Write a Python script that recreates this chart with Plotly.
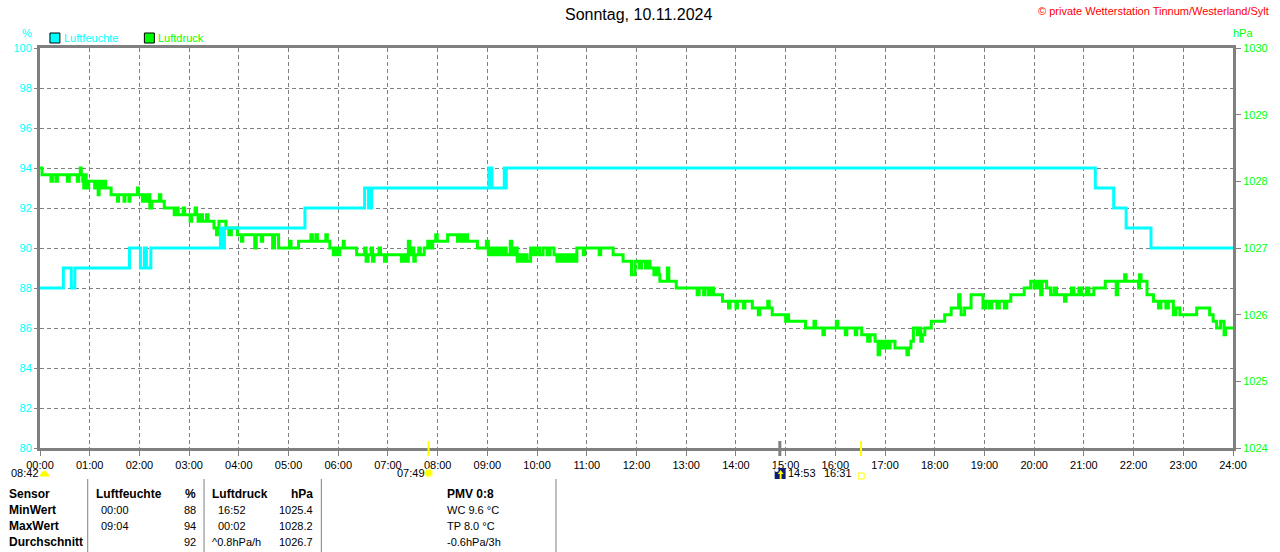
import plotly.graph_objects as go

# ---------------- data ----------------
HUM_TIME = [0.00, 0.47, 0.63, 0.70, 1.80, 2.02, 2.10, 2.14, 2.23, 3.63, 3.67, 3.71, 5.33,
            6.53, 6.61, 6.67, 9.03, 9.09, 9.34, 9.36, 9.38, 9.41, 21.23, 21.60, 21.85, 22.35, 24.00]
HUM_VALUE = [88, 89, 88, 89, 90, 89, 90, 89, 90, 91, 90, 91, 92,
             93, 92, 93, 94, 93, 94, 93, 94, 94, 93, 92, 91, 90, 90]

P_TIME = [0.00, 0.04, 0.22, 0.25, 0.32, 0.35, 0.55, 0.59, 0.75, 0.78, 0.81, 0.83, 0.86, 0.88, 0.90,
          0.93, 0.96, 0.98, 1.10, 1.12, 1.15, 1.17, 1.19, 1.21, 1.24, 1.30, 1.32, 1.43, 1.56, 1.58,
          1.69, 1.71, 1.79, 1.81, 1.96, 1.98, 2.06, 2.08, 2.13, 2.16, 2.21, 2.25, 2.40, 2.43, 2.50,
          2.70, 2.74, 2.78, 2.88, 2.91, 3.02, 3.05, 3.12, 3.15, 3.18, 3.24, 3.27, 3.35, 3.38, 3.50,
          3.55, 3.57, 3.60, 3.74, 3.80, 3.85, 3.97, 4.05, 4.08, 4.32, 4.35, 4.45, 4.48, 4.68, 4.72,
          4.80, 5.02, 5.05, 5.20, 5.45, 5.48, 5.55, 5.58, 5.75, 5.78, 5.83, 5.90, 5.93, 5.98, 6.03,
          6.10, 6.12, 6.37, 6.53, 6.56, 6.60, 6.66, 6.69, 6.72, 6.82, 6.85, 6.93, 6.97, 7.27, 7.32,
          7.36, 7.41, 7.44, 7.48, 7.52, 7.55, 7.62, 7.65, 7.73, 7.80, 7.86, 7.90, 7.96, 7.99, 8.20,
          8.40, 8.45, 8.50, 8.55, 8.60, 8.80, 8.98, 9.02, 9.08, 9.14, 9.20, 9.26, 9.32, 9.38, 9.46,
          9.49, 9.54, 9.60, 9.64, 9.70, 9.74, 9.80, 9.87, 9.92, 9.98, 10.05, 10.12, 10.20, 10.26,
          10.34, 10.40, 10.46, 10.52, 10.58, 10.64, 10.70, 10.76, 10.80, 10.93, 10.96, 11.25, 11.28,
          11.53, 11.73, 11.90, 11.97, 12.05, 12.10, 12.18, 12.22, 12.27, 12.35, 12.40, 12.45, 12.47,
          12.62, 12.65, 12.80, 13.22, 13.26, 13.35, 13.38, 13.45, 13.50, 13.55, 13.73, 13.85, 13.88,
          14.00, 14.03, 14.15, 14.18, 14.33, 14.45, 14.48, 14.64, 14.67, 14.73, 15.00, 15.03, 15.06,
          15.40, 15.57, 15.60, 15.75, 15.78, 16.02, 16.05, 16.20, 16.23, 16.40, 16.43, 16.53, 16.65,
          16.70, 16.80, 16.86, 16.89, 16.95, 17.00, 17.05, 17.10, 17.20, 17.44, 17.47, 17.52, 17.57,
          17.65, 17.68, 17.72, 17.75, 17.80, 17.93, 18.20, 18.33, 18.48, 18.51, 18.53, 18.60, 18.73,
          18.97, 19.03, 19.10, 19.15, 19.25, 19.30, 19.40, 19.45, 19.53, 19.80, 19.93, 20.00, 20.05,
          20.10, 20.13, 20.16, 20.25, 20.33, 20.40, 20.45, 20.61, 20.64, 20.75, 20.80, 20.90, 20.95,
          21.05, 21.10, 21.20, 21.43, 21.65, 21.68, 21.82, 21.85, 22.10, 22.12, 22.15, 22.27, 22.40,
          22.50, 22.55, 22.65, 22.70, 22.80, 22.85, 22.93, 23.27, 23.53, 23.60, 23.67, 23.75, 23.82,
          23.85, 24.00]
P_VALUE = [1028.2, 1028.1, 1028.0, 1028.1, 1028.0, 1028.1, 1028.0, 1028.1, 1028.0, 1028.1, 1028.2,
           1028.1, 1028.0, 1027.9, 1028.1, 1028.0, 1027.9, 1028.0, 1027.9, 1028.0, 1027.9, 1027.8,
           1027.9, 1028.0, 1027.9, 1028.0, 1027.9, 1027.8, 1027.7, 1027.8, 1027.7, 1027.8, 1027.7,
           1027.8, 1027.9, 1027.8, 1027.7, 1027.8, 1027.7, 1027.8, 1027.6, 1027.7, 1027.8, 1027.7,
           1027.6, 1027.5, 1027.6, 1027.5, 1027.6, 1027.5, 1027.4, 1027.5, 1027.6, 1027.5, 1027.4,
           1027.5, 1027.4, 1027.5, 1027.4, 1027.3, 1027.2, 1027.3, 1027.4, 1027.3, 1027.2, 1027.3,
           1027.2, 1027.1, 1027.2, 1027.0, 1027.2, 1027.1, 1027.2, 1027.0, 1027.2, 1027.0, 1027.1,
           1027.0, 1027.1, 1027.2, 1027.1, 1027.2, 1027.1, 1027.2, 1027.1, 1027.0, 1026.9, 1027.0,
           1026.9, 1027.0, 1027.1, 1027.0, 1026.9, 1027.0, 1026.8, 1026.9, 1027.0, 1026.8, 1026.9,
           1027.0, 1026.9, 1026.8, 1026.9, 1026.8, 1026.9, 1026.8, 1027.1, 1026.9, 1027.0, 1026.8,
           1026.9, 1027.0, 1026.9, 1027.0, 1027.1, 1027.0, 1027.1, 1027.2, 1027.1, 1027.2, 1027.1,
           1027.2, 1027.1, 1027.2, 1027.1, 1027.0, 1027.1, 1026.9, 1027.0, 1026.9, 1027.0, 1026.9,
           1027.0, 1026.9, 1027.1, 1026.9, 1027.0, 1026.8, 1026.9, 1026.8, 1026.9, 1026.8, 1027.0,
           1026.9, 1027.0, 1026.9, 1027.0, 1026.9, 1027.0, 1026.9, 1026.8, 1026.9, 1026.8, 1026.9,
           1026.8, 1026.9, 1026.8, 1027.0, 1026.9, 1027.0, 1026.9, 1027.0, 1026.9, 1026.8, 1026.6,
           1026.8, 1026.7, 1026.8, 1026.7, 1026.8, 1026.7, 1026.6, 1026.7, 1026.6, 1026.5, 1026.7,
           1026.5, 1026.4, 1026.3, 1026.4, 1026.3, 1026.4, 1026.3, 1026.4, 1026.3, 1026.2, 1026.1,
           1026.2, 1026.1, 1026.2, 1026.1, 1026.2, 1026.1, 1026.0, 1026.1, 1026.2, 1026.1, 1026.0,
           1025.9, 1026.0, 1025.9, 1025.8, 1025.9, 1025.8, 1025.7, 1025.8, 1025.9, 1025.8, 1025.7,
           1025.8, 1025.7, 1025.8, 1025.7, 1025.6, 1025.7, 1025.6, 1025.4, 1025.6, 1025.5, 1025.6,
           1025.5, 1025.6, 1025.5, 1025.4, 1025.5, 1025.6, 1025.8, 1025.7, 1025.8, 1025.6, 1025.7,
           1025.8, 1025.9, 1026.0, 1026.1, 1026.3, 1026.1, 1026.0, 1026.1, 1026.3, 1026.1, 1026.2,
           1026.1, 1026.2, 1026.1, 1026.2, 1026.1, 1026.2, 1026.3, 1026.4, 1026.5, 1026.4, 1026.5,
           1026.4, 1026.3, 1026.5, 1026.4, 1026.3, 1026.4, 1026.3, 1026.2, 1026.3, 1026.4, 1026.3,
           1026.4, 1026.3, 1026.4, 1026.3, 1026.4, 1026.5, 1026.3, 1026.5, 1026.6, 1026.5, 1026.4,
           1026.6, 1026.5, 1026.3, 1026.2, 1026.1, 1026.2, 1026.1, 1026.2, 1026.0, 1026.1, 1026.0,
           1026.1, 1026.0, 1025.9, 1025.8, 1025.9, 1025.7, 1025.8, 1025.8]

X_TICK_HOURS = list(range(25))
X_TICK_LABELS = ["00:00", "01:00", "02:00", "03:00", "04:00", "05:00", "06:00", "07:00", "08:00",
                 "09:00", "10:00", "11:00", "12:00", "13:00", "14:00", "15:00", "16:00", "17:00",
                 "18:00", "19:00", "20:00", "21:00", "22:00", "23:00", "24:00"]
HUM_TICKS = [80, 82, 84, 86, 88, 90, 92, 94, 96, 98, 100]
P_TICKS = [1024, 1025, 1026, 1027, 1028, 1029, 1030]

TITLE = "Sonntag, 10.11.2024"
COPYRIGHT = "© private Wetterstation Tinnum/Westerland/Sylt"

# event markers on the time axis (sunrise, moonrise, sunset)
EVENT_HOURS = [7 + 49 / 60, 14 + 53 / 60, 16 + 31 / 60]
EVENT_COLORS = ["#FFFF00", "#808080", "#FFFF00"]

TABLE_LABELS = ["Sensor", "MinWert", "MaxWert", "Durchschnitt"]
HUM_TIME_COL = ["Luftfeuchte", "00:00", "09:04", ""]
HUM_VAL_COL = ["%", "88", "94", "92"]
P_TIME_COL = ["Luftdruck", "16:52", "00:02", "^0.8hPa/h"]
P_VAL_COL = ["hPa", "1025.4", "1028.2", "1026.7"]
EXTRA_COL = ["PMV 0:8", "WC 9.6 °C", "TP 8.0 °C", "-0.6hPa/3h"]

# ---------------- styling ----------------
CYAN = "#00FFFF"
GREEN = "#00FF00"
GREY = "#808080"
FONT = "Liberation Sans"
W, H = 1280, 552
PL, PR, PT, PB = 40, 1240, 48, 448


def fx(px):
    return (px - PL) / (PR - PL)


def fy(py):
    return (PB - py) / (PB - PT)


fig = go.Figure()
fig.add_trace(go.Scatter(x=P_TIME, y=P_VALUE, mode="lines", line=dict(color=GREEN, width=3, shape="hv"),
                         name="Luftdruck", yaxis="y", hoverinfo="skip"))
fig.add_trace(go.Scatter(x=HUM_TIME, y=HUM_VALUE, mode="lines", line=dict(color=CYAN, width=3, shape="hv"),
                         name="Luftfeuchte", yaxis="y2", hoverinfo="skip"))

ann = []
shapes = []


def text(px, py, s, color="black", size=11, anchor="left", bold=False):
    ann.append(dict(xref="paper", yref="paper", x=fx(px), y=fy(py), text=("<b>%s</b>" % s) if bold else s,
                    showarrow=False, xanchor=anchor, yanchor="middle", borderpad=0,
                    font=dict(family=FONT, size=size, color=color)))


# title, copyright, units, legend
text(642, 15, TITLE, size=16, anchor="center")
text(1277, 11, COPYRIGHT, color="#FF0000", size=11, anchor="right")
text(27, 33, "%", color=CYAN, size=11, anchor="center")
text(1250, 33, "hPa", color=GREEN, size=11, anchor="center")
for bx, col, label in [(50, CYAN, "Luftfeuchte"), (145, GREEN, "Luftdruck")]:
    shapes.append(dict(type="rect", xref="paper", yref="paper", x0=fx(bx), x1=fx(bx + 10),
                       y0=fy(43), y1=fy(33), fillcolor=col, line=dict(color="black", width=1)))
    text(bx + 13, 38, label, color=col, size=11)

# event markers on the axis
for h, col in zip(EVENT_HOURS, EVENT_COLORS):
    shapes.append(dict(type="line", xref="x", yref="paper", x0=h, x1=h, y0=fy(441), y1=fy(456),
                       line=dict(color=col, width=2 if col != GREY else 3)))

# event labels below the axis
text(10, 473, "08:42")
shapes.append(dict(type="path", xref="paper", yref="paper",
                   path="M %f,%f Q %f,%f %f,%f Z" % (fx(40), fy(476), fx(44.5), fy(466), fx(49), fy(476)),
                   fillcolor="#FFFF00", line=dict(color="#FFFF00", width=1)))
text(398, 473, "07:49")
shapes.append(dict(type="circle", xref="paper", yref="paper", x0=fx(427), x1=fx(435), y0=fy(477), y1=fy(469),
                   fillcolor="#FFFF00", line=dict(color="#FFFF99", width=1.5)))
shapes.append(dict(type="rect", xref="paper", yref="paper", x0=fx(779), x1=fx(790), y0=fy(479), y1=fy(468),
                   fillcolor="#101c70", line=dict(width=0)))
shapes.append(dict(type="circle", xref="paper", yref="paper", x0=fx(779), x1=fx(783), y0=fy(472), y1=fy(468),
                   fillcolor="white", line=dict(width=0)))
shapes.append(dict(type="path", xref="paper", yref="paper",
                   path="M %f,%f L %f,%f L %f,%f L %f,%f L %f,%f L %f,%f L %f,%f Z" % (
                       fx(784), fy(479), fx(784), fy(474), fx(782), fy(474), fx(785), fy(470),
                       fx(788), fy(474), fx(786), fy(474), fx(786), fy(479)),
                   fillcolor="#FFFF00", line=dict(width=0)))
text(791, 473, "14:53")
text(828, 473, "16:31")
shapes.append(dict(type="rect", xref="paper", yref="paper", x0=fx(863), x1=fx(869), y0=fy(479), y1=fy(473),
                   fillcolor="white", line=dict(color="#FFFF00", width=1)))

# table
for vx in [88, 205, 323, 559]:
    shapes.append(dict(type="line", xref="paper", yref="paper", x0=fx(vx), x1=fx(vx), y0=fy(479), y1=fy(552),
                       line=dict(color=GREY, width=1)))
ROW_Y = [494, 510, 526, 542]
for i, ry in enumerate(ROW_Y):
    hdr = i == 0
    text(8, ry, TABLE_LABELS[i], bold=True, size=12)
    text(95 if hdr else 100, ry, HUM_TIME_COL[i], bold=hdr, size=12 if hdr else 11)
    text(198, ry, HUM_VAL_COL[i], bold=hdr, size=12 if hdr else 11, anchor="right")
    text(212 if (hdr or i == 3) else 218, ry, P_TIME_COL[i], bold=hdr, size=12 if hdr else 11)
    text(316, ry, P_VAL_COL[i], bold=hdr, size=12 if hdr else 11, anchor="right")
    text(448, ry, EXTRA_COL[i], bold=hdr, size=12 if hdr else 11)

# The figure is first laid out 16px smaller so that the page (with the browser's
# default 8px body margin) is exactly the window size; the script below then
# removes the margin and restores the full 1280x552 size.
fig.update_layout(
    width=W - 16, height=H - 16,
    margin=dict(l=PL, r=W - PR, t=PT, b=H - PB, pad=0),
    paper_bgcolor="white", plot_bgcolor="white",
    showlegend=False,
    font=dict(family=FONT, size=11, color="black"),
    xaxis=dict(range=[0, 24], tickvals=X_TICK_HOURS, ticktext=X_TICK_LABELS,
               showgrid=True, gridcolor=GREY, gridwidth=1, griddash="4px,3px",
               showline=True, linecolor=GREY, linewidth=3, mirror=True,
               ticks="outside", ticklen=5, tickcolor=GREY, tickwidth=1,
               tickfont=dict(family=FONT, size=11, color="black"), zeroline=False, fixedrange=True),
    yaxis=dict(range=[1024, 1030], tickvals=P_TICKS, side="right",
               showgrid=False, showline=True, linecolor=GREY, linewidth=3, mirror=True,
               ticks="outside", ticklen=5, tickcolor=GREY, tickwidth=1,
               tickfont=dict(family=FONT, size=11, color=GREEN), zeroline=False),
    yaxis2=dict(range=[80, 100], tickvals=HUM_TICKS, overlaying="y", side="left",
                showgrid=True, gridcolor=GREY, gridwidth=1, griddash="4px,3px",
                showline=False, ticks="outside", ticklen=5, tickcolor=GREY, tickwidth=1,
                tickfont=dict(family=FONT, size=11, color=CYAN), zeroline=False),
    annotations=ann,
    shapes=shapes,
)

POST = (
    "var gd=document.getElementById('{plot_id}');"
    "document.body.style.margin='0';"
    "document.documentElement.style.overflow='hidden';"
    "document.body.style.overflow='hidden';"
    "gd.style.width='%dpx';gd.style.height='%dpx';"
    "Plotly.relayout(gd,{width:%d,height:%d});" % (W, H, W, H)
)

fig.write_html("out.html", config={"displayModeBar": False}, post_script=POST)
